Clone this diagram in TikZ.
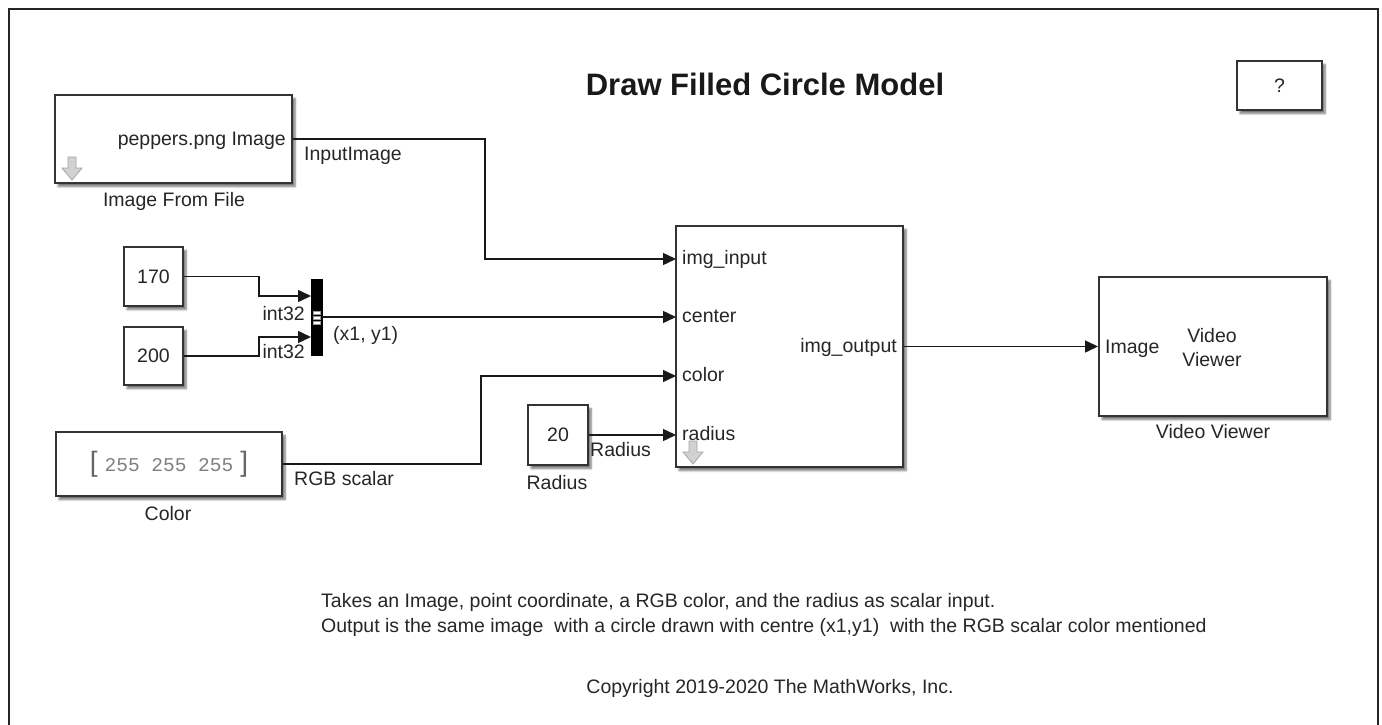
\documentclass[tikz,border=0pt]{standalone}
\usepackage{fontspec}
\setmainfont{Liberation Sans}
\newfontfamily\monofont{Liberation Mono}
\usetikzlibrary{arrows.meta,shadows.blur}
\tikzset{dnarrow/.pic={\path[fill=black!18, draw=black!35, line width=0.8pt] (-4,0) -- (4,0) -- (4,11) -- (10,11) -- (0,23) -- (-10,11) -- (-4,11) -- cycle;}}
\begin{document}
\begin{tikzpicture}[x=1pt, y=-1pt, font=\fontsize{19.5}{23.5}\selectfont,
  blk/.style={draw=black!80, line width=2pt, fill=white, inner sep=0pt, text=black!85,
    blur shadow={shadow xshift=3pt, shadow yshift=-3.5pt, shadow blur steps=6, shadow opacity=55}},
  lbl/.style={inner sep=0pt, text height=14pt, text depth=4pt, text=black!85},
  wire/.style={line width=1.5pt, black!90, -{Triangle[length=13pt,width=12pt]}}]
\useasboundingbox (0,0) rectangle (1382,725);
\draw[line width=2pt, black!85] (9,725) -- (9,9) -- (1378,9) -- (1378,725);
\node[inner sep=0pt, text=black!90, font=\fontsize{31}{36}\selectfont\bfseries] (title) at (765,84) {Draw Filled Circle Model};
\node[blk, minimum width=85pt, minimum height=49pt] (help) at (1279.5,85.5) {?};
% image source
\node[blk, minimum width=237pt, minimum height=88pt] (imgfile) at (173.5,139) {};
\node[lbl, anchor=east] (imgfiletxt) at (286,140) {peppers.png Image};
\pic at (72,157) {dnarrow};
\node[lbl] (imgfilename) at (174,201) {Image From File};
% constants and mux
\node[blk, minimum width=59pt, minimum height=59pt] (c170) at (153.5,276.5) {170};
\node[blk, minimum width=59pt, minimum height=58pt] (c200) at (153.5,356) {200};
\node[draw=black, fill=black, minimum width=11pt, minimum height=76pt, inner sep=0pt] (mux) at (316.5,317) {};
\foreach \y in {311,316,321}
  \filldraw[fill=white, draw=black!40, line width=0.5pt] (313,\y) rectangle (320,{\y+3});
\coordinate (mux1) at (311,296);
\coordinate (mux2) at (311,337);
\node[lbl, anchor=east] (int1) at (305,315) {int32};
\node[lbl, anchor=east] (int2) at (305,353) {int32};
% colour and radius
\node[blk, minimum width=226pt, minimum height=64pt] (color) at (169,464) {{\fontsize{28}{28}\selectfont\color{black!60}[}\hspace{7pt}{\monofont\color{black!50}255 255 255}\hspace{7pt}{\fontsize{28}{28}\selectfont\color{black!60}]}};
\node[lbl] (colorname) at (168,515) {Color};
\node[blk, minimum width=60pt, minimum height=60pt] (radius) at (558,435) {20};
\node[lbl] (radiusname) at (557,484) {Radius};
% subsystem
\node[blk, minimum width=227pt, minimum height=241pt] (drawc) at (789.5,346.5) {};
\coordinate (pimg) at (676,259);
\coordinate (pctr) at (676,317);
\coordinate (pcol) at (676,376);
\coordinate (prad) at (676,435);
\node[lbl, anchor=west] (limg) at (682,259) {img\_input};
\node[lbl, anchor=west] (lctr) at (682,317) {center};
\node[lbl, anchor=west] (lcol) at (682,376) {color};
\node[lbl, anchor=west] (lrad) at (682,435) {radius};
\node[lbl, anchor=east] (lout) at (897,347) {img\_output};
\pic at (693,441) {dnarrow};
% viewer
\node[blk, minimum width=228pt, minimum height=139pt] (viewer) at (1213,346.5) {};
\node[lbl, anchor=west] (limage) at (1105,348) {Image};
\node[inner sep=0pt, align=center, text=black!85, font=\fontsize{19.5}{24}\selectfont] (viewertxt) at (1212,348) {Video\\Viewer};
\node[lbl] (viewername) at (1213,433) {Video Viewer};
% signals
\draw[wire] (imgfile.east) -- ++(192,0) |- (pimg);
\draw[wire] (c170.east) -- ++(75,0) |- (mux1);
\draw[wire] (c200.east) -- ++(75,0) |- (mux2);
\draw[wire] (mux.east) -- (pctr);
\draw[wire] (color.east) -- ++(198,0) |- (pcol);
\draw[wire] (radius.east) -- (prad);
\draw[wire] (drawc.east) -- (viewer.west);
\node[lbl, anchor=west] (sinput) at (304,155) {InputImage};
\node[lbl, anchor=west] (spoint) at (333,335) {(x1, y1)};
\node[lbl, anchor=west] (srgb) at (294,480) {RGB scalar};
\node[lbl, anchor=west] (srad) at (590,451) {Radius};
% notes
\node[inner sep=0pt, anchor=north west, align=left, text=black!85, font=\fontsize{19.5}{25}\selectfont] (note) at (321,593) {Takes an Image, point coordinate, a RGB color, and the radius as scalar input.\\Output is the same image\ \ with a circle drawn with centre (x1,y1)\ \ with the RGB scalar color mentioned};
\node[lbl] (copy) at (770,688) {Copyright 2019-2020 The MathWorks, Inc.};
\end{tikzpicture}
\end{document}
